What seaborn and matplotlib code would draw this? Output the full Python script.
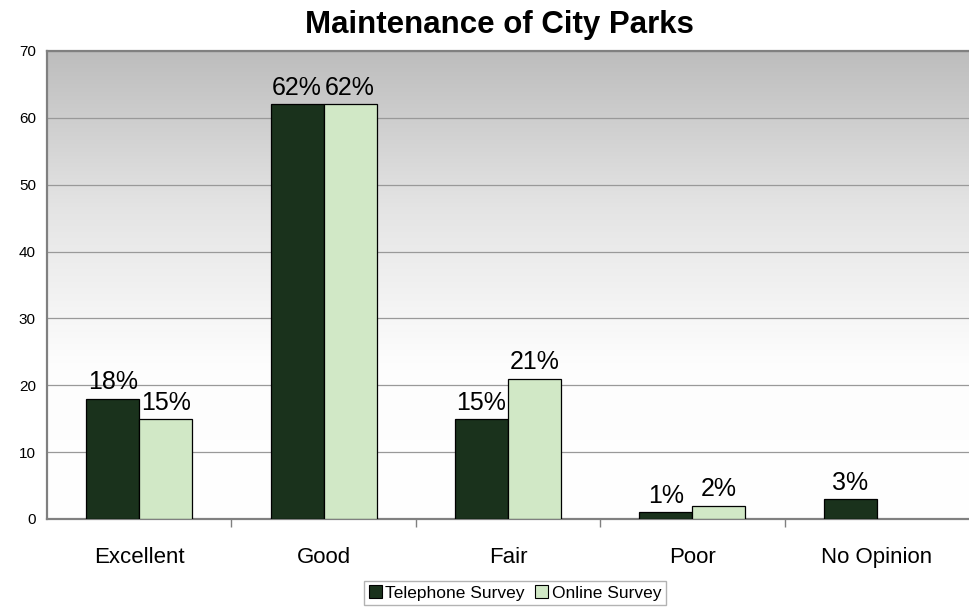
import numpy as np
import pandas as pd
import matplotlib
matplotlib.use("Agg")
import matplotlib.pyplot as plt
import seaborn as sns
from matplotlib.patches import Patch
from matplotlib.colors import LinearSegmentedColormap

categories = ["Excellent", "Good", "Fair", "Poor", "No Opinion"]
telephone = [18, 62, 15, 1, 3]
online = [15, 62, 21, 2, None]
series_names = ["Telephone Survey", "Online Survey"]
colors = ["#1a321c", "#d1e8c6"]
y_ticks = [0, 10, 20, 30, 40, 50, 60, 70]

rows = []
for c, t, o in zip(categories, telephone, online):
    rows.append({"cat": c, "series": series_names[0], "val": t})
    rows.append({"cat": c, "series": series_names[1], "val": o})
df = pd.DataFrame(rows).dropna()

sns.set_theme(style="white")
plt.rcParams["font.family"] = ["Liberation Sans", "DejaVu Sans"]
plt.rcParams["text.color"] = "black"
plt.rcParams["xtick.color"] = "black"
plt.rcParams["ytick.color"] = "black"

fig = plt.figure(figsize=(9.7, 6.08), dpi=100)
ax = fig.add_axes([47 / 970, 1 - 519 / 608, 1 - 47 / 970 - 0.001, (519 - 51) / 608])

# gradient background
cmap = LinearSegmentedColormap.from_list("bg", ["#ffffff", "#fdfdfd", "#e4e4e4", "#bdbdbd"], N=256)
grad = np.linspace(0, 1, 256).reshape(-1, 1)
ax.imshow(grad, extent=[-0.5, 4.5, 0, 70], origin="lower", aspect="auto", cmap=cmap,
          zorder=0, interpolation="bicubic")

sns.barplot(data=df, x="cat", y="val", hue="series", order=categories,
            hue_order=series_names, palette=colors, width=0.575, errorbar=None,
            edgecolor="black", linewidth=0.9, saturation=1, ax=ax, legend=False,
            zorder=3)

for cont in ax.containers:
    labels = [f"{v:.0f}%" for v in cont.datavalues]
    ax.bar_label(cont, labels=labels, padding=3, fontsize=18, color="black")

ax.set_xlim(-0.5, 4.5)
ax.set_ylim(0, 70)
ax.set_yticks(y_ticks)
ax.set_yticklabels([str(t) for t in y_ticks], fontsize=11, color="black")
ax.yaxis.grid(True, color="#999999", linewidth=0.9, zorder=1)
ax.set_axisbelow(True)
ax.set_xlabel("")
ax.set_ylabel("")
ax.set_xticks(range(len(categories)))
ax.set_xticklabels(categories, fontsize=16, color="black")
ax.tick_params(axis="x", length=0, pad=20)
ax.set_xticks([0.5, 1.5, 2.5, 3.5], minor=True)
ax.tick_params(axis="x", which="minor", length=6, color="#808080", width=1, direction="out")
ax.tick_params(axis="y", length=5, color="#808080", width=1, direction="out", pad=3)
ax.xaxis.set_tick_params(which="minor", bottom=True)

for side in ["left", "top", "bottom"]:
    ax.spines[side].set_visible(True)
    ax.spines[side].set_color("#808080")
    ax.spines[side].set_linewidth(1.6)
ax.spines["right"].set_visible(False)

fig.suptitle("Maintenance of City Parks", x=499 / 970, y=1 - 25 / 608, va="center",
             fontsize=22.5, fontweight="bold", color="black")

handles = [Patch(facecolor=colors[0], edgecolor="black", linewidth=0.8),
           Patch(facecolor=colors[1], edgecolor="black", linewidth=0.8)]
leg = fig.legend(handles, series_names, loc="center", bbox_to_anchor=(515 / 970, 1 - 593 / 608),
                 ncol=2, fontsize=12.5, frameon=True, fancybox=False, handlelength=0.75,
                 handleheight=0.75, handletextpad=0.2, columnspacing=0.6, borderpad=0.25,
                 borderaxespad=0)
leg.get_frame().set_edgecolor("#a0a0a0")
leg.get_frame().set_linewidth(1.0)
for t in leg.get_texts():
    t.set_color("black")

fig.savefig("out.png", dpi=100)
